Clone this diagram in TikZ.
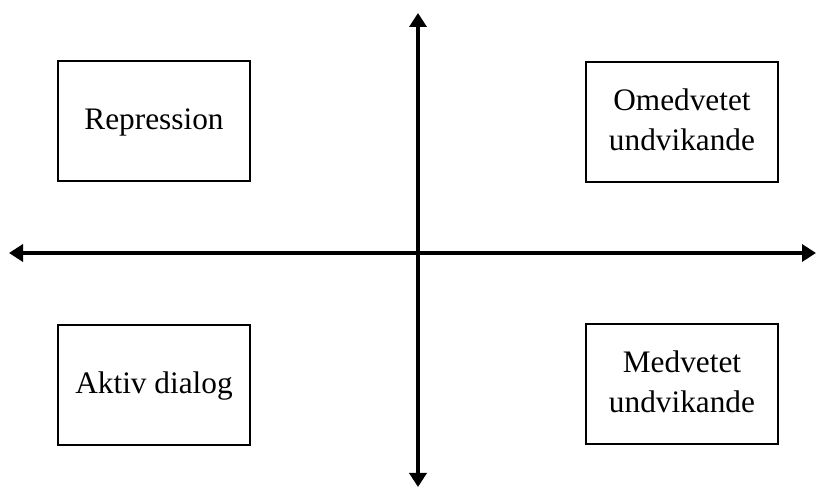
\documentclass[tikz,border=0pt]{standalone}
\usepackage{fontspec}
\setmainfont{Liberation Serif}
\usetikzlibrary{arrows.meta}
\begin{document}
\begin{tikzpicture}[x=1pt,y=1pt,
  quadbox/.style={draw=black, line width=2.2pt, minimum width=192pt, minimum height=120pt,
    align=center, inner sep=0pt, font=\fontsize{31.3}{40}\selectfont},
  onebox/.style={quadbox, text height=21pt, text depth=3pt},
  twobox/.style={quadbox, text depth=5pt},
  axis/.style={line width=4pt, -{Triangle[width=17pt,length=14pt]}},
]
\useasboundingbox (0,0) rectangle (817,489);
\fill[white] (0,0) rectangle (817,489);
% axes end points
\coordinate (top) at (418,476);
\coordinate (bottom) at (418,2);
\coordinate (left) at (9,236);
\coordinate (right) at (816,236);
\coordinate (origin) at (418,236);
\draw[axis] (origin) -- (top);
\draw[axis] (origin) -- (bottom);
\draw[axis] (origin) -- (left);
\draw[axis] (origin) -- (right);
% boxes
\node[onebox] (rep) at (154,368) {Repression};
\node[twobox] (omed) at (682,367) {Omedvetet\\undvikande};
\node[onebox] (akt) at (154,104) {Aktiv dialog};
\node[twobox] (med) at (682,105) {Medvetet\\undvikande};
\end{tikzpicture}
\end{document}
